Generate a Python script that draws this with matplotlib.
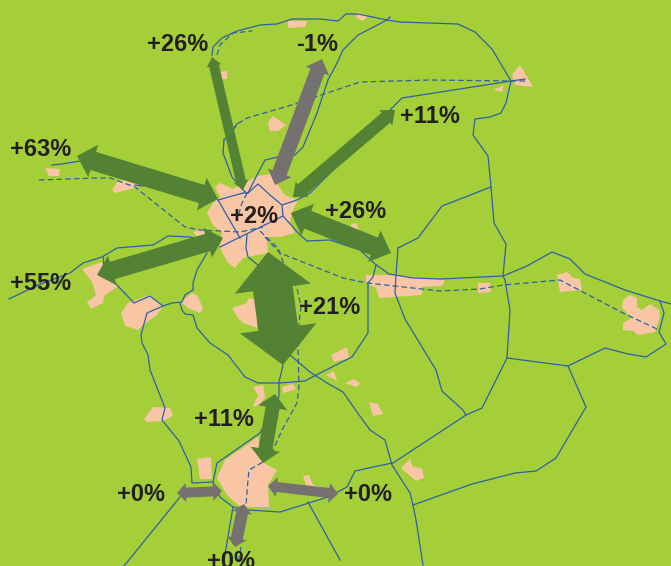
# plot.py
# Map of towns, roads and traffic change arrows, traced in pixel coordinates.

import numpy as np
import matplotlib
matplotlib.use('Agg')
import matplotlib.pyplot as plt
from matplotlib.patches import Polygon

# Towns.
main_town = [(215,187),(220,183),(233,189),(245,183),(257,176),(270,174),(278,185),(285,195),(298,200),(292,212),(290,223),(295,233),(280,237),(267,237),(268,253),(257,255),(243,258),(235,268),(227,262),(220,248),(222,233),(213,225),(207,213),(213,203),(220,197)]
south_town = [(217,478),(225,460),(258,437),(262,462),(277,470),(268,485),(269,507),(248,507),(238,505),(227,495)]
other_towns = [
    [(193,232),(203,229),(206,237),(197,237)],
    [(112,190),(117,182),(125,179),(139,184),(135,188),(115,193)],
    [(45,168),(60,169),(59,176),(49,176)],
    [(268,122),(273,116),(286,125),(278,131),(270,131)],
    [(220,72),(227,71),(227,79),(222,79)],
    [(288,21),(307,21),(305,27),(288,28)],
    [(358,12),(368,16),(363,21),(356,18)],
    [(512,75),(520,65),(525,73),(533,87),(515,85)],
    [(493,90),(504,85),(502,92)],
    [(351,224),(356,223),(359,230),(352,231)],
    [(366,275),(390,275),(445,280),(442,286),(422,287),(422,295),(379,298),(376,288),(366,283)],
    [(478,283),(490,283),(491,292),(478,293)],
    [(557,275),(567,272),(573,278),(580,279),(582,290),(560,292)],
    [(622,308),(623,300),(630,295),(637,298),(637,307),(642,310),(650,304),(659,310),(660,317),(655,332),(638,335),(633,331),(623,330),(623,323),(632,318)],
    [(82,269),(102,262),(115,283),(117,287),(104,296),(103,303),(91,309),(87,302),(96,295),(92,282)],
    [(128,303),(150,295),(163,306),(157,315),(147,322),(138,330),(125,326),(121,313)],
    [(181,302),(192,293),(197,295),(203,308),(200,313),(188,308)],
    [(232,308),(247,303),(248,298),(257,300),(257,328),(243,323),(237,317)],
    [(144,419),(153,407),(170,408),(173,416),(163,421),(147,422)],
    [(253,387),(263,385),(265,397),(260,405),(253,407),(258,395)],
    [(282,387),(293,384),(296,389),(283,393)],
    [(331,355),(347,347),(349,358),(334,362)],
    [(326,375),(334,371),(337,381)],
    [(345,383),(354,379),(360,383),(357,387)],
    [(369,402),(378,404),(383,414),(373,416)],
    [(401,468),(410,459),(413,467),(422,468),(424,478),(416,481)],
    [(197,459),(211,457),(212,479),(200,479)],
    [(303,476),(309,475),(313,485),(323,488),(307,488)],
]

# Solid roads.
solid_roads = [
    [(212,55),(213,47),(222,38),(237,31),(260,25),(277,24),(292,19),(320,19),(338,21),(346,14),(358,14),(387,20),(400,22),(458,24),(475,32),(492,49),(511,81),(506,103),(501,113),(490,117),(475,119),(473,135),(488,156),(491,187),(494,223),(506,244),(503,276),(505,280),(510,310),(507,358),(482,408),(466,415),(393,463)],
    [(390,17),(387,20),(358,35),(343,50),(337,63),(328,80),(317,113),(303,147),(295,155),(278,157),(265,160),(257,175),(248,193)],
    [(218,200),(243,193),(248,193),(258,184),(270,195),(282,205),(297,200),(310,193),(330,173),(390,110),(402,98),(511,81),(525,79)],
    [(218,200),(240,238)],
    [(220,247),(283,216),(282,205)],
    [(283,216),(300,235),(307,241),(330,240),(360,250),(375,264),(389,274),(413,278),(440,279),(503,276),(527,266),(552,252),(570,259),(585,274),(625,290),(660,301),(671,304)],
    [(660,301),(664,313),(659,332),(666,344),(646,357),(628,354),(605,348),(568,366),(507,358)],
    [(568,366),(586,407),(556,458),(536,471),(515,473),(472,484),(413,505),(410,493),(392,465),(385,440),(370,430),(357,412),(343,392),(327,383),(310,372),(290,355)],
    [(413,505),(416,520),(423,565)],
    [(392,463),(355,471),(347,487),(328,497),(280,512),(248,510),(233,507),(220,497),(213,482),(217,463),(260,433),(272,410),(279,397),(279,382),(283,365)],
    [(308,502),(340,560)],
    [(180,497),(124,566)],
    [(213,482),(192,483),(191,467),(179,441),(162,420),(165,408),(150,370),(148,355),(142,343),(141,335),(147,313),(163,306),(172,303),(182,302),(185,295),(193,290),(193,283),(197,270),(207,253)],
    [(180,303),(182,310),(185,314),(193,315),(197,328),(210,343),(228,355),(245,377),(258,383),(280,383),(305,381),(320,373),(352,357),(368,333),(368,283),(373,277),(376,265)],
    [(9,299),(38,285),(70,273),(83,263),(102,257),(117,248),(153,245),(168,236),(190,237),(197,239)],
    [(103,257),(103,267)],
    [(115,283),(134,303),(150,296),(163,306)],
    [(52,165),(62,164),(80,161)],
    [(135,185),(143,186)],
    [(224,140),(223,153),(232,177),(243,190),(247,193)],
    [(224,140),(237,124)],
    [(247,235),(246,248),(248,257),(258,265)],
    [(398,248),(396,275),(395,293),(405,319),(436,370),(442,391),(463,410),(466,415)],
    [(398,248),(418,238),(442,206),(491,187)],
    [(233,507),(223,566)],
]

# Dashed roads.
dashed_roads = [
    [(217,55),(220,45),(233,33),(252,31)],
    [(525,81),(510,81),(430,80),(360,82),(330,92),(295,104),(247,118),(237,124),(232,132)],
    [(39,180),(97,178),(110,178),(135,187),(185,227),(200,230),(240,232),(263,227)],
    [(265,237),(280,253),(343,278),(367,283),(440,291),(480,289),(503,285),(560,280),(623,313),(657,329)],
    [(260,231),(278,248),(283,262),(297,288),(301,307),(299,323),(298,347),(299,387),(297,403),(292,412),(282,430),(273,450),(263,462),(249,470),(248,480),(246,505)],
    [(241,547),(238,563)],
    [(247,193),(242,203),(237,220)],
]

# Arrows: both tips of each arrow, then its change label.
arrow_tips = [
    ((243,190),(212,57)),
    ((275,185),(322,59)),
    ((293,197),(395,110)),
    ((218,199),(77,156)),
    ((223,238),(97,275)),
    ((291,213),(391,253)),
    ((268,252),(283,365)),
    ((275,394),(263,463)),
    ((177,493),(222,491)),
    ((268,486),(338,494)),
    ((244,504),(235,547)),
]
arrow_colors = ['green','grey','green','green','green','green','green','green','grey','grey','grey']
shaft_widths = [10,15,13,19,18,19,40,14,10,10,12]
head_widths = [15,25,20,34,31,34,77,30,19,20,20]
head_lengths = [9,13,12,17,16,18,37,14,9,9,9]

labels = ['+26%','-1%','+11%','+63%','+2%','+26%','+21%','+55%','+11%','+0%','+0%','+0%']
label_x = [178,317,430,41,254,356,330,41,224,141,368,231]
label_y = [51,51,123,156,223,218,314,290,426,501,501,568]

# Colours.
bg_color = '#a4cf39'
town_color = '#f8c6a4'
road_color = '#2f5fa8'
text_color = '#231f20'
fill_colors = {'green': '#548235', 'grey': '#767171'}


def double_arrow(p0, p1, shaft, head, length):
    # Outline of a two headed arrow between two tips.
    p0 = np.array(p0, dtype=float)
    p1 = np.array(p1, dtype=float)
    along = (p1 - p0) / np.linalg.norm(p1 - p0)
    side = np.array([-along[1], along[0]])
    a = p0 + along * length
    b = p1 - along * length
    return [p0, a + side * head / 2, a + side * shaft / 2, b + side * shaft / 2, b + side * head / 2,
            p1, b - side * head / 2, b - side * shaft / 2, a - side * shaft / 2, a - side * head / 2]


fig = plt.figure(figsize=(6.71, 5.66), dpi=100, facecolor=bg_color)
ax = fig.add_axes([0, 0, 1, 1])
ax.set_xlim(0, 671)
ax.set_ylim(566, 0)
ax.axis('off')

# Draw the towns first so the roads sit on top.
for town in [main_town, south_town] + other_towns:
    ax.add_patch(Polygon(town, closed=True, facecolor=town_color, edgecolor='none', zorder=1))

for road in solid_roads:
    xs, ys = zip(*road)
    ax.plot(xs, ys, color=road_color, linewidth=0.9, zorder=2)

for road in dashed_roads:
    xs, ys = zip(*road)
    ax.plot(xs, ys, color=road_color, linewidth=0.9, dashes=(4.5, 2.5), zorder=2)

for i in range(len(arrow_tips)):
    outline = double_arrow(arrow_tips[i][0], arrow_tips[i][1], shaft_widths[i], head_widths[i], head_lengths[i])
    ax.add_patch(Polygon(outline, closed=True, facecolor=fill_colors[arrow_colors[i]], edgecolor='none', zorder=3))

for i in range(len(labels)):
    ax.text(label_x[i], label_y[i], labels[i], family='Liberation Sans', fontweight='bold', fontsize=17,
            color=text_color, ha='center', va='baseline', zorder=4)

plt.savefig('out.png', dpi=100, facecolor=bg_color)
